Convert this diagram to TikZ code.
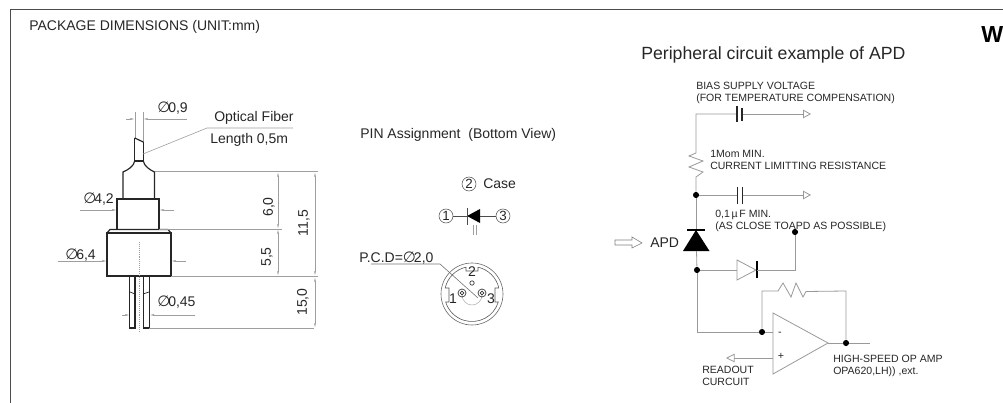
\documentclass[tikz,border=0pt]{standalone}
\usepackage{fontspec}
\setmainfont{Liberation Sans}
\newfontfamily\dejafont{DejaVu Sans}
\newcommand{\diam}{\makebox[8.25pt][l]{\dejafont\fontsize{11.2}{12}\selectfont ∅}}
\usetikzlibrary{arrows.meta}
\definecolor{dimgray}{gray}{0.62}
\definecolor{wiregray}{gray}{0.6}
\tikzset{
  x=0.75pt,y=-0.75pt,
  border/.style={draw=black!70,line width=0.7pt},
  body/.style={draw=black!85,line width=0.9pt},
  dimline/.style={draw=dimgray,line width=0.45pt},
  dimarrow/.style={dimline,{Latex[length=3.5pt,width=1.5pt,open]}-{Latex[length=3.5pt,width=1.5pt,open]}},
  dimtip/.style={dimline,-{Latex[length=3.5pt,width=1.5pt]}},
  wire/.style={draw=wiregray,line width=0.6pt},
  hollow/.style={wire,-{Triangle[open,length=6pt,width=6.5pt,fill=white]}},
  dotnode/.style={circle,fill=black,inner sep=0pt,minimum size=4.6pt},
  lbl/.style={inner sep=0pt,align=left,font=\fontsize{7.9}{9}\selectfont,text=black!85},
  midlbl/.style={inner sep=0pt,font=\fontsize{10.5}{12}\selectfont,text=black!85},
  pinnum/.style={circle,draw=black!70,line width=0.4pt,inner sep=0pt,minimum size=10.5pt,font=\fontsize{10}{11}\selectfont,text=black!85},
}
\begin{document}
\begin{tikzpicture}
\useasboundingbox (0,0) rectangle (1003,403);
% frame
\draw[border] (10,403) -- (10,9.5) -- (1003,9.5);
\node[midlbl,anchor=west] (title) at (29,27) {PACKAGE DIMENSIONS (UNIT:mm)};
\node[anchor=west,inner sep=0pt,font=\fontsize{17.4}{20}\bfseries\selectfont] (w) at (981,35) {W};
\node[anchor=west,inner sep=0pt,font=\fontsize{13.25}{15}\selectfont,text=black!85] (periph) at (641,55) {Peripheral circuit example of APD};

% package body
\draw[dimline] (135,112) -- (135,138) (143,112) -- (143,142);
\draw[body] (134.7,138) -- (134.7,161);
\draw[body] (143.3,142) -- (143.3,161);
\draw[body] (134.7,138) -- (139,140) -- (143.3,142);
\draw[body] (134.7,161) -- (143.3,161);
\draw[body] (134.7,161) .. controls (134,166) and (128,170) .. (123,172) -- (123,199);
\draw[body] (143.3,161) .. controls (144,166) and (150,170) .. (154.5,172) -- (154.5,199);
\draw[body] (117,229) -- (117,199) -- (159,199) -- (159,229);
\draw[body] (107,233) -- (110,229.5) -- (168,229.5) -- (171,233);
\draw[body] (107,276) -- (107,233) -- (171,233) -- (171,276) -- cycle;
\draw[body] (129.5,276) -- (129.5,328) -- (135,328) -- (135,276);
\draw[body] (143.5,276) -- (143.5,328) -- (149.5,328) -- (149.5,276);
\draw[dimline,densely dotted] (139,242) -- (139,331);
\draw[body,line width=0.5pt] (130,292) -- (135,294) (143,294) -- (149,292);
% dims
\draw[dimline] (155,171) -- (318,171);
\draw[dimline] (159,229) -- (282,229);
\draw[dimline] (171,276) -- (318,276);
\draw[dimline] (149,328) -- (314,328);
\draw[dimarrow] (278,172) -- (278,229);
\draw[dimarrow] (278,229) -- (278,276);
\draw[dimarrow] (315,172) -- (315,276);
\draw[dimarrow] (315,277) -- (315,328);
\draw[dimtip] (80,210) -- (117,210);
\draw[dimtip] (174,210) -- (159,210);
\draw[dimtip] (58,261) -- (107,261);
\draw[dimtip] (186,261) -- (171,261);
\draw[dimtip] (122,315) -- (130,315);
\draw[dimtip] (195,315) -- (149.5,315);
\draw[dimtip] (126,119) -- (135,119);
\draw[dimtip] (187,119) -- (143,119);
\draw[dimline] (143,154) -- (207,128) -- (293,128);
\node[midlbl,anchor=west] (d09) at (157,108) {\diam 0,9};
\node[midlbl,anchor=west] (d42) at (83,199) {\diam 4,2};
\node[midlbl,anchor=west] (d64) at (65,255) {\diam 6,4};
\node[midlbl,anchor=west] (d045) at (157,302) {\diam 0,45};
\node[midlbl,anchor=west] (fib) at (214,118) {Optical Fiber};
\node[midlbl,anchor=west] (len) at (210,140) {Length 0,5m};
\node[midlbl,rotate=90] (v60) at (269,207) {6,0};
\node[midlbl,rotate=90] (v55) at (267,257) {5,5};
\node[midlbl,rotate=90] (v115) at (304,223) {11,5};
\node[midlbl,rotate=90] (v150) at (303,302) {15,0};

% pin assignment
\node[midlbl,anchor=west] (pin) at (360,135) {PIN Assignment\ \ (Bottom View)};
\node[pinnum] (p2) at (469,184) {2};
\node[midlbl,anchor=west] (case) at (483,184) {Case};
\node[pinnum] (p1) at (446,216) {1};
\node[pinnum] (p3) at (503,216) {3};
\coordinate (dk) at (467,216);
\coordinate (da) at (480,216);
\draw[draw=black!70,line width=0.4pt] (p1) -- (dk) (da) -- (p3);
\fill[black] (467,216) -- (480,209) -- (480,223) -- cycle;
\draw[black!70,line width=0.6pt] (467,208) -- (467,225);
\draw[dimline] (473,225) -- (473,235) (476,225) -- (476,235);
\node[midlbl,anchor=west] (pcd) at (359,258) {P.C.D=\diam 2,0};
\draw[draw=black!55,line width=0.45pt] (371,264) -- (440,264) -- (478,298);
\draw[draw=black!60,line width=0.45pt] (472,294) circle (31);
\draw[draw=black!65,line width=0.45pt] (478,267.2) arc (-77.4:-12.6:27.5) -- (495,288) -- (495,302) -- (498.3,302) arc (16.9:163.1:27.5) -- (449,302) -- (449,288) -- (445.2,288) arc (192.6:257.4:27.5) -- (466,271) -- (478,271) -- cycle;
\draw[draw=black!30,line width=0.4pt] (482,295) arc (0:180:10);
\draw[black!80,line width=0.5pt] (472,283) circle (2.2);
\draw[black!80,line width=0.5pt] (462,293) circle (4) (462,293) circle (1.8);
\draw[black!80,line width=0.5pt] (482,293) circle (4) (482,293) circle (1.8);
\node[midlbl] (n2) at (472,272) {2};
\node[midlbl] (n1) at (453,299) {1};
\node[midlbl] (n3) at (491,299) {3};

% circuit
\node[lbl,anchor=north west] (bias) at (696,82) {BIAS SUPPLY VOLTAGE\\(FOR TEMPERATURE COMPENSATION)};
\node[lbl,anchor=north west] (res) at (710,150) {1Mom MIN.\\CURRENT LIMITTING RESISTANCE};
\node[lbl,anchor=north west] (cap) at (715,210) {0,1\,µ\,F MIN.\\(AS CLOSE TOAPD AS POSSIBLE)};
\coordinate (tl) at (696,114);
\coordinate (r1) at (696,153);
\coordinate (r2) at (696,177);
\node[dotnode] (j1) at (696,195) {};
\coordinate (tipA) at (811,114);
\coordinate (tipB) at (811,195);
\coordinate (c1l) at (737,114);
\coordinate (c1r) at (742,114);
\coordinate (c2l) at (737,195);
\coordinate (c2r) at (742,195);
\draw[wire] (c1l) -- (tl) -- (r1) -- (689,156) -- (703,161) -- (689,167) -- (703,172) -- (r2) -- (j1);
\draw[hollow] (c1r) -- (tipA);
\draw[wire] (j1) -- (c2l);
\draw[hollow] (c2r) -- (tipB);
\draw[black!85,line width=0.8pt] (737,106) -- (737,122);
\draw[black!85,line width=1.3pt] (742,108) -- (742,121);
\draw[black!85,line width=0.7pt] (737,187) -- (737,204) (742,187) -- (742,204);
% APD
\coordinate (apdtop) at (696,230);
\node[dotnode] (j2) at (795,232) {};
\node[dotnode] (j3) at (697,270) {};
\draw[wire] (j1) -- (apdtop);
\draw[black,line width=1pt] (687,230) -- (705,230);
\fill[black] (696,230) -- (709.5,251) -- (683,251) -- cycle;
\draw[wire] (696.5,251) -- (j3);
\node[midlbl,anchor=west] (apd) at (650,243) {APD};
\draw[draw=black!50,line width=0.45pt,fill=white] (615,240) -- (632,240) -- (632,237) -- (642,243) -- (632,248) -- (632,245) -- (615,245) -- cycle;
% D2
\coordinate (d2a) at (737,270);
\coordinate (d2k) at (757,270);
\draw[wire] (j3) -- (d2a);
\draw[wire] (737,260) -- (756,270) -- (737,280) -- cycle;
\draw[black,line width=1.1pt] (757,261) -- (757,278);
\draw[wire] (d2k) -- (795,270) -- (j2);
% opamp
\coordinate (oa) at (773,313);
\coordinate (ob) at (773,374);
\coordinate (oc) at (828,343);
\node[dotnode] (j4) at (762,332) {};
\node[dotnode] (j5) at (846,343) {};
\draw[wire] (oa) -- (ob) -- (oc) -- cycle;
\draw[wire] (j3) -- (697,332) -- (j4) -- (773,332);
\draw[wire] (oc) -- (j5) -- (870,343);
\draw[wire] (j4) -- (762,291) -- (778,291) -- (783,283) -- (791,297) -- (796,283) -- (803,297) -- (806,291.5) -- (846,291) -- (j5);
\draw[wire,-{Triangle[open,length=6.5pt,width=6.5pt,fill=white]}] (773,358) -- (726,358);
\node[midlbl,font=\fontsize{8}{9}\selectfont] (minus) at (780,334) {-};
\node[midlbl,font=\fontsize{8}{9}\selectfont] (plus) at (781,356) {+};
\node[lbl,anchor=north west] (hs) at (833,355) {HIGH-SPEED OP AMP\\OPA620,LH)) ,ext.};
\node[lbl,anchor=north west] (ro) at (702,366) {READOUT\\CURCUIT};
\end{tikzpicture}
\end{document}
